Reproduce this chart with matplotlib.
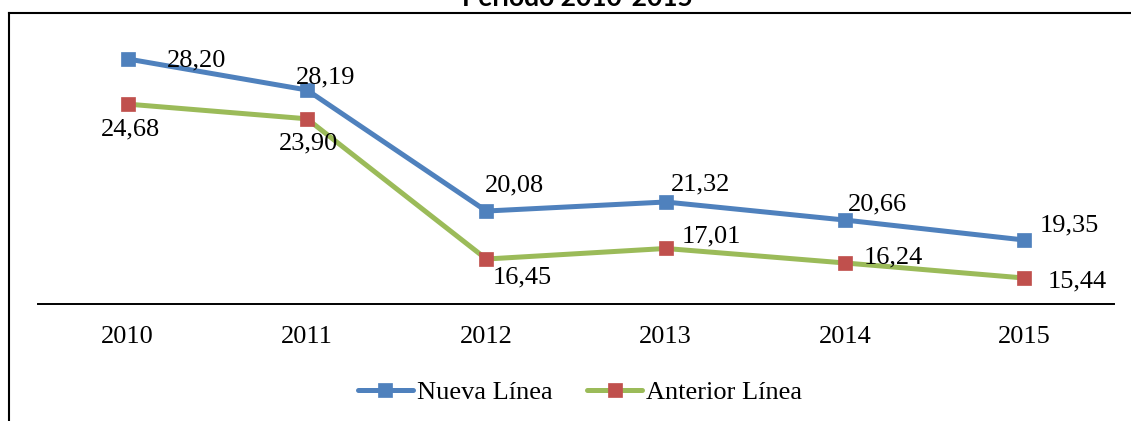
import matplotlib
matplotlib.use("Agg")
import matplotlib.pyplot as plt
from matplotlib.lines import Line2D

# ---- data ----
years = ["2010", "2011", "2012", "2013", "2014", "2015"]
# plotted heights of the markers
nueva_values = [27.08, 25.43, 19.00, 19.48, 18.52, 17.46]
anterior_values = [24.68, 23.90, 16.45, 17.01, 16.24, 15.44]
# data labels as printed on the chart
nueva_labels = ["28,20", "28,19", "20,08", "21,32", "20,66", "19,35"]
anterior_labels = ["24,68", "23,90", "16,45", "17,01", "16,24", "15,44"]
title = "Período 2010-2015"
series_names = ["Nueva Línea", "Anterior Línea"]

# label offsets in pixels (dx right, dy down)
nueva_off = [(69, 0), (19, -14), (28, -27), (35, -19), (32, -17), (45, -16)]
anterior_off = [(3, 24), (2, 24), (36, 17), (46, -13), (48, -7), (53, 2)]

W, H = 1131, 421
fig = plt.figure(figsize=(W / 100, H / 100), dpi=100)
fig.patch.set_facecolor("white")

ax_left, ax_right, ax_bottom, ax_top = 38, 1114, 304, 4
ax = fig.add_axes([ax_left / W, 1 - ax_bottom / H,
                   (ax_right - ax_left) / W, (ax_bottom - ax_top) / H])
ax.set_facecolor("none")

serif = "Liberation Serif"
blue, green, red = "#4F81BD", "#9BBB59", "#C0504D"

x = list(range(len(years)))
ax.plot(x, nueva_values, color=blue, lw=3.6, marker="s", markersize=10,
        markerfacecolor=blue, markeredgecolor=blue, markeredgewidth=0.5,
        solid_capstyle="round", solid_joinstyle="round", clip_on=False,
        label=series_names[0], zorder=3)
ax.plot(x, anterior_values, color=green, lw=3.6, marker="s", markersize=10,
        markerfacecolor=red, markeredgecolor=red, markeredgewidth=0.5,
        solid_capstyle="round", solid_joinstyle="round", clip_on=False,
        label=series_names[1], zorder=3)

for i in x:
    dx, dy = nueva_off[i]
    ax.annotate(nueva_labels[i], (i, nueva_values[i]), xytext=(dx, -dy - 1),
                textcoords="offset pixels", ha="center", va="center",
                fontsize=19, family=serif, color="black", zorder=4)
    dx, dy = anterior_off[i]
    ax.annotate(anterior_labels[i], (i, anterior_values[i]), xytext=(dx, -dy - 1),
                textcoords="offset pixels", ha="center", va="center",
                fontsize=19, family=serif, color="black", zorder=4)

ax.set_xlim(-0.5, len(years) - 0.5)
ax.set_ylim(14.06, 30)
ax.set_xticks(x)
ax.set_xticklabels(years, fontsize=19, family=serif)
ax.tick_params(axis="x", length=0, pad=15.5)
ax.set_yticks([])
for s in ["top", "right", "left"]:
    ax.spines[s].set_visible(False)
ax.spines["bottom"].set_linewidth(1.4)
ax.spines["bottom"].set_color("black")

# outer frame (top and left edges visible)
fig.add_artist(Line2D([9 / W, 1.0], [1 - 13 / H, 1 - 13 / H],
                      transform=fig.transFigure, color="black", lw=1.5))
fig.add_artist(Line2D([9 / W, 9 / W], [1 - 13 / H, 0.0],
                      transform=fig.transFigure, color="black", lw=1.5))

# cut-off title
fig.text(577 / W, 1 - 6 / H, title, ha="center", va="baseline",
         fontsize=19, fontweight="bold", family="Lato", color="black")

leg = fig.legend(loc="center", bbox_to_anchor=(580 / W, 1 - 392 / H),
                 ncol=2, frameon=False, prop={"family": serif, "size": 19},
                 handlelength=2.1, handletextpad=0.15, columnspacing=1.3,
                 borderaxespad=0, borderpad=0)

fig.savefig("out.png", dpi=100)
